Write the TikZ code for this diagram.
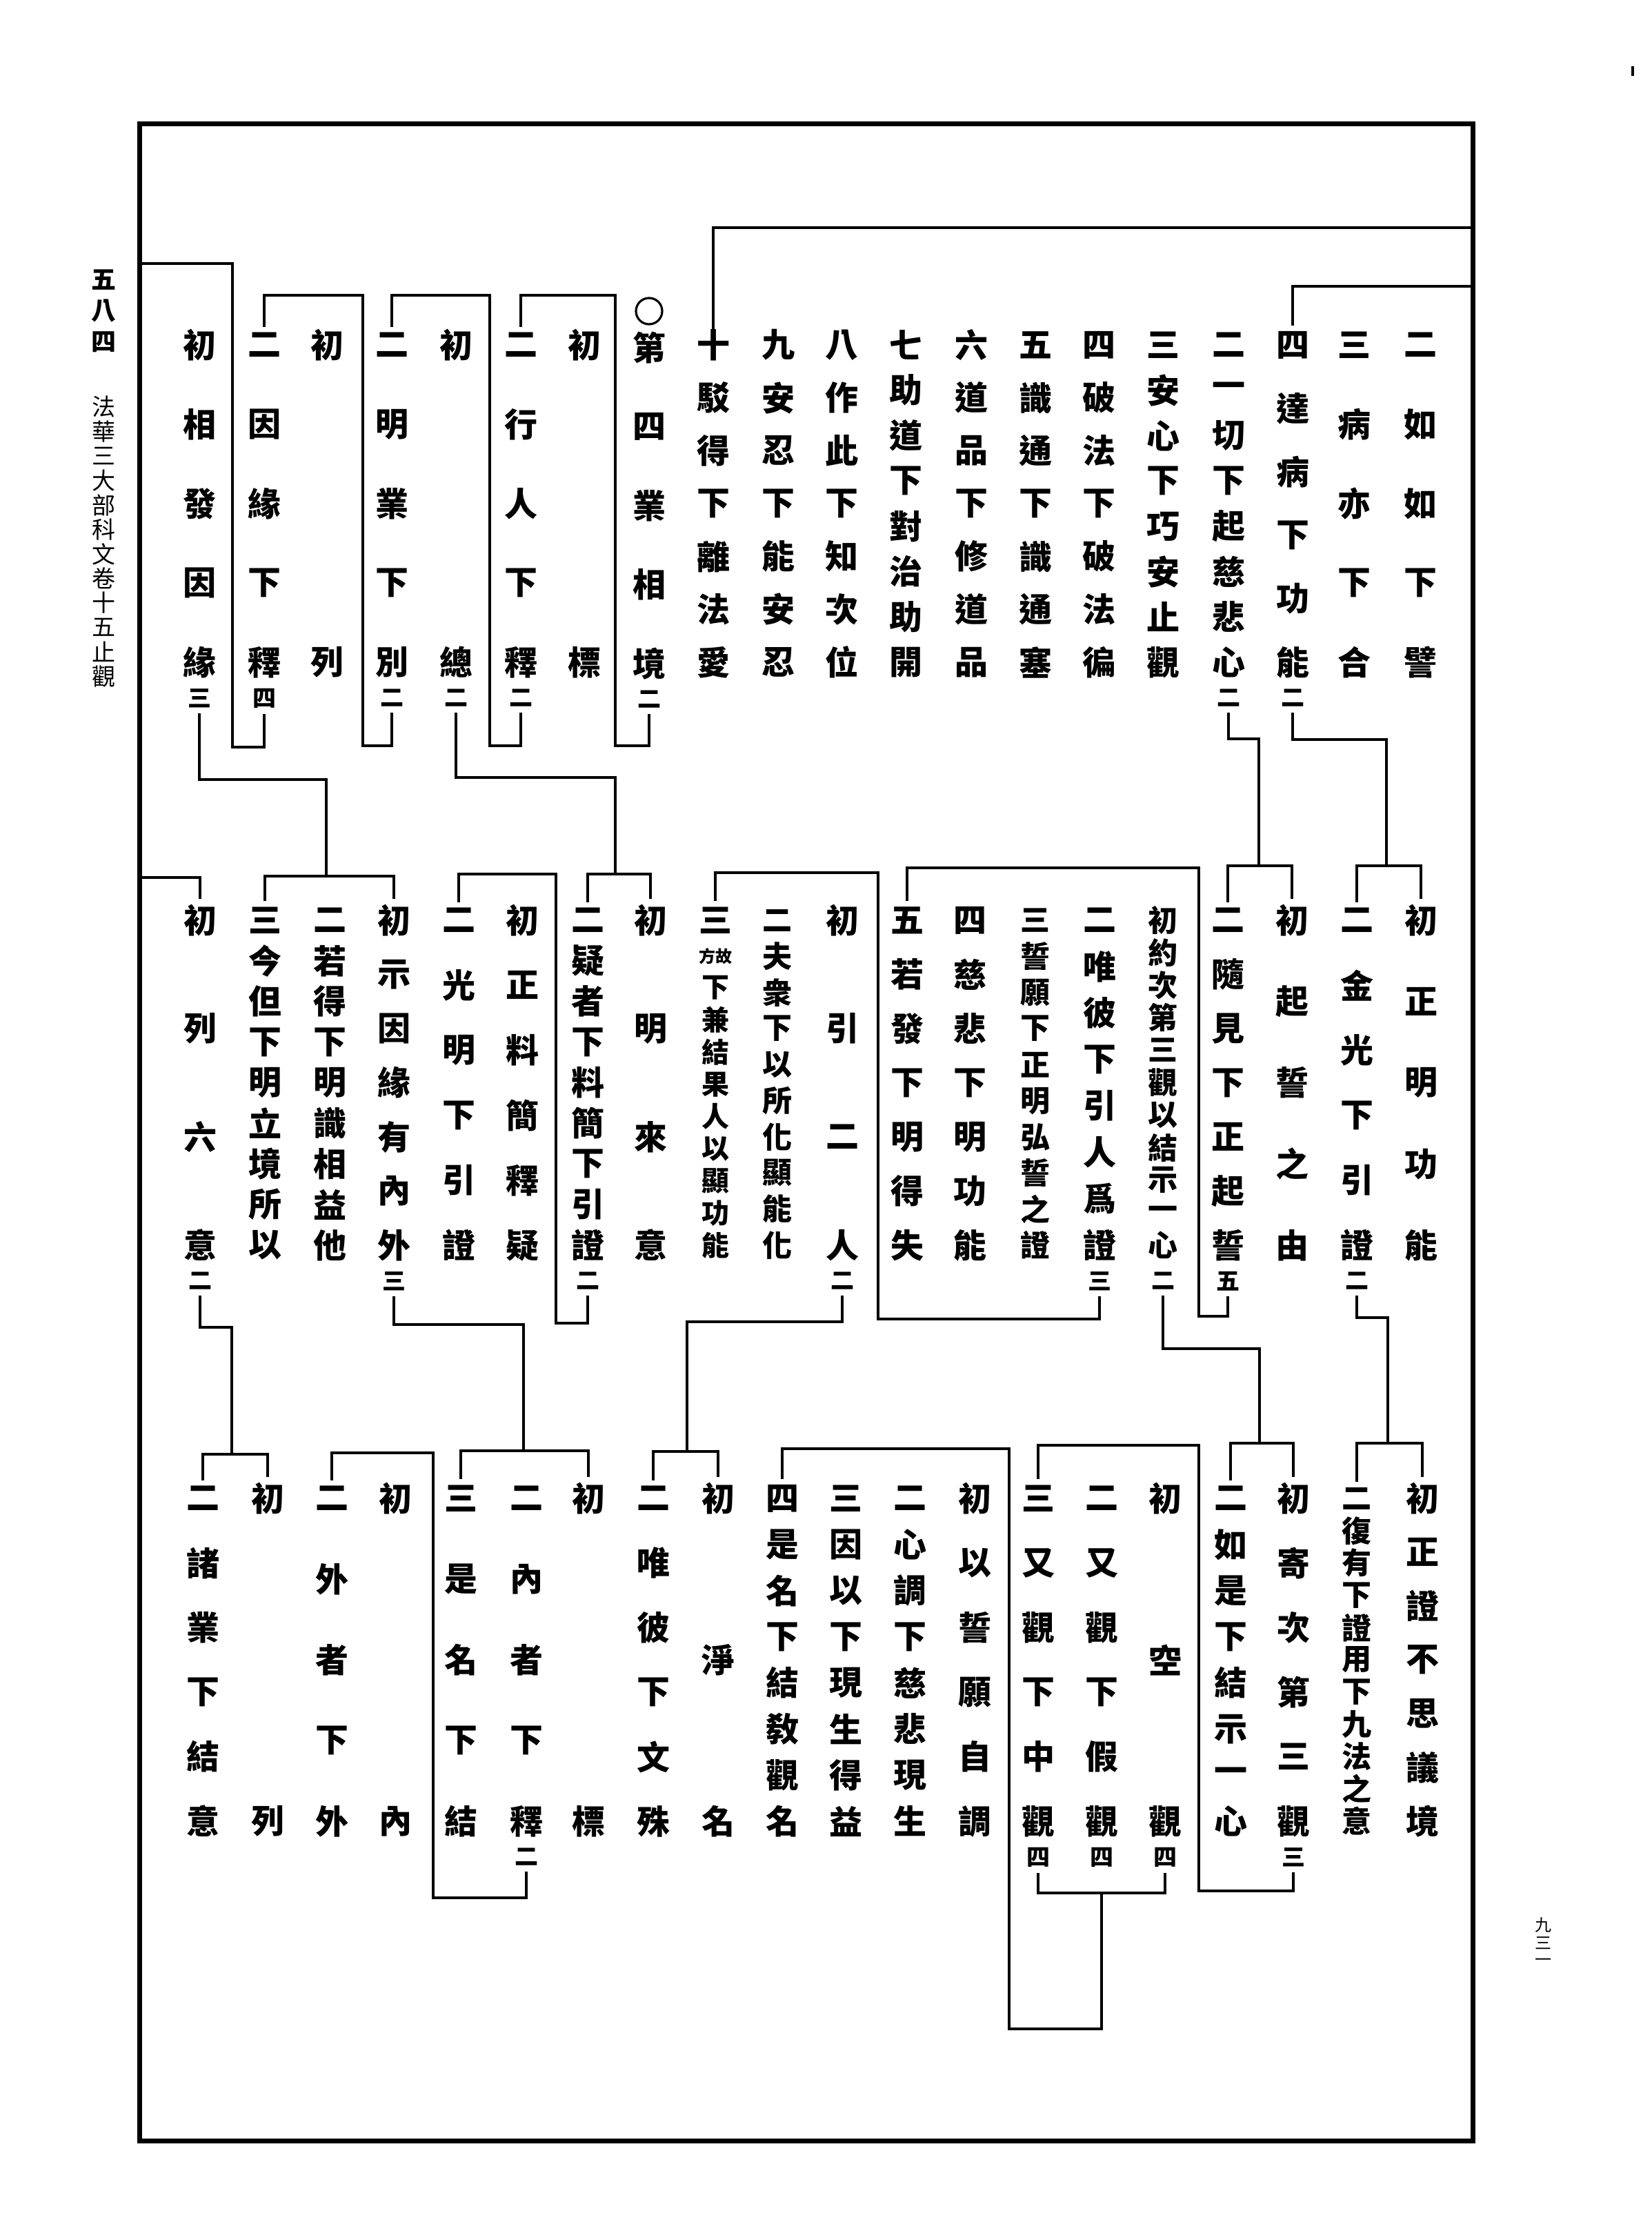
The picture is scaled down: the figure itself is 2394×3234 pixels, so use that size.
\documentclass[tikz,border=0pt]{standalone}
\usepackage{fontspec}
\newfontfamily\cjk{Noto Sans CJK TC}
\newcommand\kcol[6]{%
  \foreach \c [count=\i] in {#5} {\xdef\kn{\i}}%
  \ifnum\kn>9 \tikzset{colst/.style={chd}}\else\tikzset{colst/.style={ch}}\fi
  \foreach \c [count=\i] in {#5} {%
    \pgfmathsetmacro\yy{#3+(#4-#3)*(\i-1)/(\kn-1)}%
    \node[colst] (#1-\i) at (#2,\yy) {\c};%
  }%
  \if\relax\detokenize{#6}\relax\else
    \node[sm] (#1-s) at (#2,#4+52) {#6};%
  \fi
}
\newcommand\rowA[4]{\kcol{#1}{#2}{500}{960}{#3}{#4}}
\newcommand\rowB[4]{\kcol{#1}{#2}{1334}{1805}{#3}{#4}}
\newcommand\rowC[4]{\kcol{#1}{#2}{2172}{2640}{#3}{#4}}
\newcommand\twobr[3]{\draw[br,tk] (#1.north) |- (#2.north |- 0,#3) -- (#2.north);}
\begin{document}
\begin{tikzpicture}[x=0.5pt,y=-0.5pt,
  ch/.style={font=\cjk\bfseries\fontsize{24pt}{24pt}\selectfont, inner sep=0pt},
  chd/.style={font=\cjk\bfseries\fontsize{21.5pt}{21.5pt}\selectfont, inner sep=0pt},
  chn/.style={font=\cjk\bfseries\fontsize{20pt}{20pt}\selectfont, inner sep=0pt},
  sm/.style={font=\cjk\bfseries\fontsize{17pt}{17pt}\selectfont, inner sep=0pt},
  wr/.style={font=\cjk\bfseries\fontsize{12pt}{12pt}\selectfont, inner sep=0pt},
  hd/.style={font=\cjk\fontsize{17pt}{17pt}\selectfont, inner sep=0pt},
  hdb/.style={font=\cjk\bfseries\fontsize{18pt}{18pt}\selectfont, inner sep=0pt},
  pn/.style={font=\cjk\fontsize{12pt}{12pt}\selectfont, inner sep=0pt},
  br/.style={line width=1.75pt, line cap=butt, line join=miter},
  tk/.style={shorten <=4pt, shorten >=4pt}]
\useasboundingbox (0,0) rectangle (2394,3234);
\fill[white] (0,0) rectangle (2394,3234);
% frame
\draw[line width=3.5pt] (202,179) rectangle (2135,3103);
\draw[line width=2pt] (2367,96) -- (2367,110);
% margin header
\foreach \c [count=\i] in {五,八,四} {\node[hdb] (hn-\i) at (150,{406+(\i-1)*45}) {\c};}
\foreach \c [count=\i] in {法,華,三,大,部,科,文,卷,十,五,止,觀} {\node[hd] (ht-\i) at (150,{590+(\i-1)*35.5}) {\c};}
\foreach \c [count=\i] in {九,三,一} {\node[pn] (pg-\i) at (2237,{2790+(\i-1)*27}) {\c};}

% ---------------- Row 1
\rowA{r1a}{2059}{二,如,如,下,譬}{}
\rowA{r1b}{1963}{三,病,亦,下,合}{}
\rowA{r1c}{1874}{四,達,病,下,功,能}{二}
\rowA{r1d}{1781}{二,一,切,下,起,慈,悲,心}{二}
\rowA{r1e}{1686}{三,安,心,下,巧,安,止,觀}{}
\rowA{r1f}{1593}{四,破,法,下,破,法,徧}{}
\rowA{r1g}{1501}{五,識,通,下,識,通,塞}{}
\rowA{r1h}{1408}{六,道,品,下,修,道,品}{}
\rowA{r1i}{1313}{七,助,道,下,對,治,助,開}{}
\rowA{r1j}{1220}{八,作,此,下,知,次,位}{}
\rowA{r1k}{1128}{九,安,忍,下,能,安,忍}{}
\rowA{r1l}{1034}{十,駁,得,下,離,法,愛}{}
\kcol{r1m}{941}{504}{962}{第,四,業,相,境}{二}
\node[circle, draw, line width=1.6pt, minimum width=17pt, minimum height=19pt, inner sep=0pt] (r1m-o) at (941,451) {};
\rowA{r1n}{847}{初,標}{}
\rowA{r1o}{755}{二,行,人,下,釋}{二}
\rowA{r1p}{661}{初,總}{二}
\rowA{r1q}{568}{二,明,業,下,別}{二}
\rowA{r1r}{474}{初,列}{}
\rowA{r1s}{383}{二,因,緣,下,釋}{四}
\rowA{r1t}{289}{初,相,發,因,緣}{三}

\draw[br] (r1l-1.north) |- (2133,330);
\draw[br,shorten <=4pt] (r1c-1.north) |- (2133,415);
\draw[br,tk] (r1o-1.north) |- (892,428) -- (892,1081) -| (r1m-s.south);
\draw[br,tk] (r1q-1.north) |- (710,428) -- (710,1081) -| (r1o-s.south);
\draw[br,tk] (r1s-1.north) |- (526,428) -- (526,1081) -| (r1q-s.south);
\draw[br,shorten >=4pt] (202,382) -| (337,1083) -| (r1s-s.south);

% row 1 -> row 2
\draw[br,shorten <=4pt] (r1t-s.south) |- (473,1130) -- (473,1270);
\draw[br,shorten <=4pt] (r1p-s.south) |- (892,1127) -- (892,1267);
\draw[br,shorten <=4pt] (r1d-s.south) |- (1825,1071) -- (1825,1255);
\draw[br,shorten <=4pt] (r1c-s.south) |- (2010,1072) -- (2010,1255);

% ---------------- Row 2
\rowB{r2a}{2060}{初,正,明,功,能}{}
\rowB{r2b}{1967}{二,金,光,下,引,證}{二}
\rowB{r2c}{1873}{初,起,誓,之,由}{}
\rowB{r2d}{1780}{二,隨,見,下,正,起,誓}{五}
\rowB{r2e}{1686}{初,約,次,第,三,觀,以,結,示,一,心}{二}
\rowB{r2f}{1594}{二,唯,彼,下,引,人,爲,證}{三}
\rowB{r2g}{1501}{三,誓,願,下,正,明,弘,誓,之,證}{}
\rowB{r2h}{1406}{四,慈,悲,下,明,功,能}{}
\rowB{r2i}{1315}{五,若,發,下,明,得,失}{}
\rowB{r2j}{1221}{初,引,二,人}{二}
\rowB{r2k}{1127}{二,夫,衆,下,以,所,化,顯,能,化}{}
\node[ch] (r2l-1) at (1037,1334) {三};
\node[wr] (r2l-w) at (1037,1386) {方故};
\foreach \c [count=\i from 2] in {下,兼,結,果,人,以,顯,功,能} {%
  \pgfmathsetmacro\yy{1432+(1805-1432)*(\i-2)/8}%
  \node[chn] (r2l-\i) at (1037,\yy) {\c};}
\rowB{r2m}{943}{初,明,來,意}{}
\rowB{r2n}{852}{二,疑,者,下,料,簡,下,引,證}{二}
\rowB{r2o}{757}{初,正,料,簡,釋,疑}{}
\rowB{r2p}{665}{二,光,明,下,引,證}{}
\rowB{r2q}{571}{初,示,因,緣,有,內,外}{三}
\rowB{r2r}{478}{二,若,得,下,明,識,相,益,他}{}
\rowB{r2s}{384}{三,今,但,下,明,立,境,所,以}{}
\rowB{r2t}{290}{初,列,六,意}{二}

\twobr{r2b-1}{r2a-1}{1255}
\twobr{r2d-1}{r2c-1}{1255}
\draw[br,tk] (r2i-1.north) |- (1738,1258) -- (1738,1908) -| (r2d-s.south);
\draw[br,tk] (r2l-1.north) |- (1273,1265) -- (1273,1912) -| (r2f-s.south);
\twobr{r2n-1}{r2m-1}{1267}
\draw[br,tk] (r2p-1.north) |- (806,1267) -- (806,1918) -| (r2n-s.south);
\twobr{r2s-1}{r2q-1}{1270}
\draw[br,shorten >=4pt] (202,1272) -| (r2t-1.north);

% row 2 -> row 3
\draw[br,shorten <=4pt] (r2t-s.south) |- (336,1924) -- (336,2108);
\draw[br,shorten <=4pt] (r2q-s.south) |- (759,1920) -- (759,2103);
\draw[br,shorten <=4pt] (r2j-s.south) |- (996,1916) -- (996,2104);
\draw[br,shorten <=4pt] (r2e-s.south) |- (1826,1955) -- (1826,2092);
\draw[br,shorten <=4pt] (r2b-s.south) |- (2012,1910) -- (2012,2092);

% ---------------- Row 3
\rowC{r3a}{2062}{初,正,證,不,思,議,境}{}
\rowC{r3b}{1967}{二,復,有,下,證,用,下,九,法,之,意}{}
\rowC{r3c}{1875}{初,寄,次,第,三,觀}{三}
\rowC{r3d}{1784}{二,如,是,下,結,示,一,心}{}
\rowC{r3e}{1689}{初,空,觀}{四}
\rowC{r3f}{1597}{二,又,觀,下,假,觀}{四}
\rowC{r3g}{1505}{三,又,觀,下,中,觀}{四}
\rowC{r3h}{1413}{初,以,誓,願,自,調}{}
\rowC{r3i}{1319}{二,心,調,下,慈,悲,現,生}{}
\rowC{r3j}{1226}{三,因,以,下,現,生,得,益}{}
\rowC{r3k}{1134}{四,是,名,下,結,敎,觀,名}{}
\rowC{r3l}{1041}{初,淨,名}{}
\rowC{r3m}{947}{二,唯,彼,下,文,殊}{}
\rowC{r3n}{853}{初,標}{}
\rowC{r3o}{763}{二,內,者,下,釋}{二}
\rowC{r3p}{668}{三,是,名,下,結}{}
\rowC{r3q}{573}{初,內}{}
\rowC{r3r}{481}{二,外,者,下,外}{}
\rowC{r3s}{388}{初,列}{}
\rowC{r3t}{294}{二,諸,業,下,結,意}{}

\twobr{r3b-1}{r3a-1}{2092}
\twobr{r3d-1}{r3c-1}{2092}
\draw[br,tk] (r3g-1.north) |- (1738,2095) -- (1738,2741) -| (r3c-s.south);
\draw[br,tk] (r3e-s.south) |- (r3g-s.south |- 0,2744) -- (r3g-s.south);
\draw[br,shorten >=4pt] (1597,2744) -- (1597,2941) -| (1463,2100) -| (r3k-1.north);
\twobr{r3m-1}{r3l-1}{2104}
\twobr{r3p-1}{r3n-1}{2103}
\draw[br,tk] (r3r-1.north) |- (628,2106) -- (628,2751) -| (r3o-s.south);
\twobr{r3t-1}{r3s-1}{2108}
\end{tikzpicture}
\end{document}
